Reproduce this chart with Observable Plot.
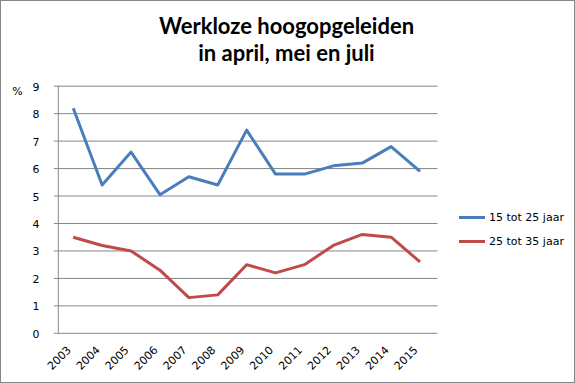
<!DOCTYPE html>
<html>
<head>
<meta charset="utf-8">
<script src="https://cdn.jsdelivr.net/npm/d3@7"></script>
<script src="https://cdn.jsdelivr.net/npm/@observablehq/plot@0.6"></script>
<style>
  html, body { margin: 0; padding: 0; background: #fff; }
  #chart { position: relative; width: 575px; height: 383px; box-sizing: border-box; border: 1px solid #868686; overflow: hidden; background: #fff; }
  #title { position: absolute; left: 0; top: 11px; width: 571px; text-align: center; font-family: Lato, "Open Sans", sans-serif; font-weight: bold; font-size: 22px; line-height: 27px; color: #000; }
  #title span { display: block; }
  #legend { position: absolute; left: 458px; top: 204px; font-family: "DejaVu Sans", Verdana, sans-serif; font-size: 11px; color: #000; }
  .item { display: flex; align-items: center; height: 24px; }
  .swatch { width: 26px; height: 3px; margin-right: 4px; }
  svg { position: absolute; left: -1px; top: -1px; }
</style>
</head>
<body>
<div id="chart">
  <div id="title"></div>
  <div id="legend"></div>
</div>
<script>
const titleLines = ["Werkloze hoogopgeleiden", "in april, mei en juli"];
const years = ["2003","2004","2005","2006","2007","2008","2009","2010","2011","2012","2013","2014","2015"];
const seriesNames = ["15 tot 25 jaar", "25 tot 35 jaar"];
const seriesColors = ["#4a7ebb", "#be4b48"];
const values15tot25 = [8.2, 5.4, 6.6, 5.05, 5.7, 5.4, 7.4, 5.8, 5.8, 6.1, 6.2, 6.8, 5.9];
const values25tot35 = [3.5, 3.2, 3.0, 2.3, 1.3, 1.4, 2.5, 2.2, 2.5, 3.2, 3.6, 3.5, 2.6];
const yTicks = [0, 1, 2, 3, 4, 5, 6, 7, 8, 9];
const yUnit = "%";

const data = [];
[values15tot25, values25tot35].forEach((vals, s) => {
  vals.forEach((v, i) => data.push({year: years[i], value: v, series: seriesNames[s]}));
});

const chart = document.getElementById("chart");
document.getElementById("title").innerHTML = titleLines.map(t => `<span>${t}</span>`).join("");
document.getElementById("legend").innerHTML = seriesNames.map((n, i) =>
  `<div class="item"><div class="swatch" style="background:${seriesColors[i]}"></div><span>${n}</span></div>`).join("");

const font = "'DejaVu Sans', Verdana, sans-serif";
const plot = Plot.plot({
  width: 575,
  height: 383,
  marginLeft: 54,
  marginRight: 136,
  marginTop: 86,
  marginBottom: 49,
  style: { fontFamily: font, fontSize: "11px", color: "#000", background: "transparent", overflow: "visible" },
  x: { type: "point", domain: years, padding: 0.5, label: null },
  y: { domain: [0, 9], ticks: yTicks, label: null },
  color: { domain: seriesNames, range: seriesColors },
  marks: [
    Plot.ruleY(yTicks, { stroke: "#868686", strokeWidth: 1 }),
    Plot.ruleX([years[0]], { stroke: "#868686", strokeWidth: 1, dx: -15, y1: 0, y2: 9 }),
    Plot.axisY({ ticks: yTicks, tickSize: 0, tickPadding: 15, label: null, fontSize: 11, fontFamily: font, dy: 1 }),
    Plot.axisX({ tickSize: 0, tickRotate: -45, tickPadding: 13, label: null, fontSize: 11, fontFamily: font, dx: -4, dy: 2 }),
    Plot.lineY(data, { x: "year", y: "value", z: "series", stroke: "series", strokeWidth: 3, strokeLinejoin: "round", strokeLinecap: "butt" }),
    Plot.text([yUnit], { frameAnchor: "top-left", dx: -37, dy: 1, text: d => d, fontSize: 11, textAnchor: "middle", fontFamily: font })
  ]
});
chart.appendChild(plot);
</script>
</body>
</html>
